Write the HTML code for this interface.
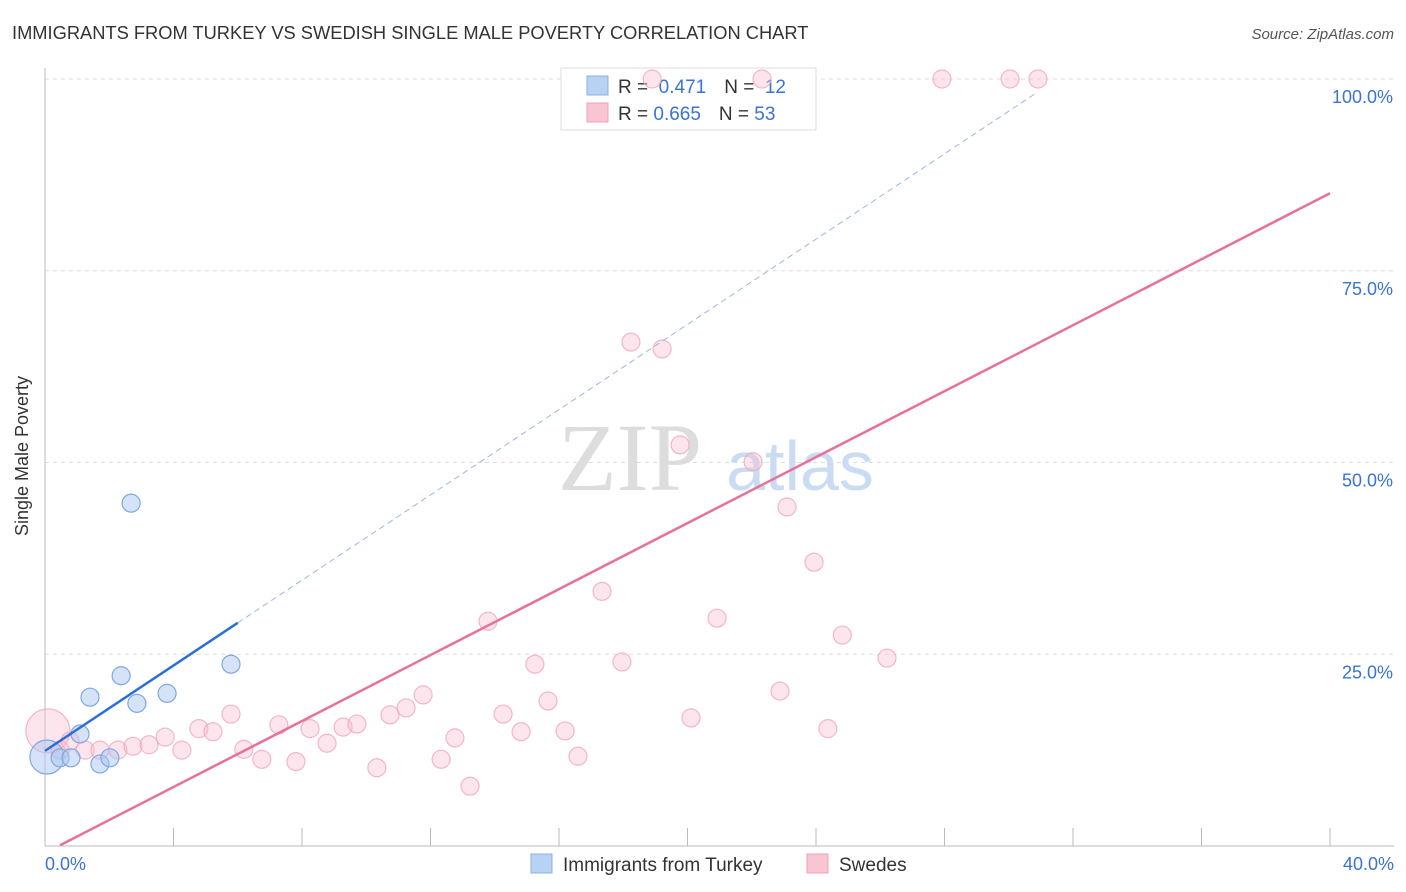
<!DOCTYPE html>
<html><head><meta charset="utf-8"><style>
body{margin:0;background:#fff;font-family:"Liberation Sans",sans-serif}
svg{display:block}
</style></head><body>
<svg id="chart" width="1406" height="892">
<text x="12" y="39" font-size="18.3" fill="#333">IMMIGRANTS FROM TURKEY VS SWEDISH SINGLE MALE POVERTY CORRELATION CHART</text>
<text x="1394" y="39" font-size="15" fill="#555" font-style="italic" text-anchor="end">Source: ZipAtlas.com</text>
<g id="grid"></g>
<text x="630" y="490" font-size="96" font-family="Liberation Serif" fill="#ddd" text-anchor="middle">ZIP</text>
<text x="800" y="490" font-size="70" fill="#c9dcf3" text-anchor="middle">atlas</text>
<g id="axes"></g>
<text x="28" y="456" font-size="18" fill="#333" text-anchor="middle" transform="rotate(-90 28 456)">Single Male Poverty</text>
<text x="45" y="870" font-size="18" fill="#3a74d0">0.0%</text>
<text x="1394" y="870" font-size="18" fill="#3a74d0" text-anchor="end">40.0%</text>
<g>
<rect x="561" y="68" width="255" height="62" fill="#fff" stroke="#ddd"/>
<rect x="587" y="76" width="21" height="19" fill="#b8d2f5" stroke="#8ab0e0"/>
<rect x="587" y="103" width="21" height="19" fill="#f9c5d3" stroke="#f0a0b8"/>
<text x="618" y="93" font-size="19" fill="#333">R = <tspan fill="#3a74d0">&#160;0.471</tspan><tspan dx="18">N = </tspan><tspan fill="#3a74d0">&#160;12</tspan></text>
<text x="618" y="120" font-size="19" fill="#333">R = <tspan fill="#3a74d0">0.665</tspan><tspan dx="18">N = </tspan><tspan fill="#3a74d0">53</tspan></text>
</g>
<g>
<rect x="531" y="854" width="21" height="19" fill="#b8d2f5" stroke="#8ab0e0"/>
<text x="563" y="871" font-size="19" fill="#333">Immigrants from Turkey</text>
<rect x="807" y="854" width="21" height="19" fill="#f9c5d3" stroke="#f0a0b8"/>
<text x="839" y="871" font-size="19" fill="#333">Swedes</text>
</g>
<g id="pts"></g>
<g id="lines"></g>
</svg>
<script>
const yTicks=[25,50,75,100];
const yTickLabels=["25.0%","50.0%","75.0%","100.0%"];
const xTicks=[0,4,8,12,16,20,24,28,32,36,40];
const blueX=[0.06,0.47,0.81,1.09,1.40,1.71,2.02,2.37,2.68,2.86,3.80,5.79];
const blueY=[11.6,11.5,11.5,14.6,19.4,10.7,11.5,22.2,44.7,18.6,19.9,23.7];
const pinkX=[0.09,0.47,0.78,1.25,1.71,2.27,2.74,3.24,3.74,4.26,4.79,5.23,5.79,6.19,6.75,7.28,7.81,8.25,8.78,9.28,9.71,10.33,10.74,11.24,11.77,12.33,12.76,13.23,13.79,14.26,14.82,15.25,15.66,16.19,16.59,17.34,17.96,18.24,18.90,19.21,19.77,20.11,20.92,22.04,22.32,22.88,23.10,23.94,24.37,24.82,26.21,27.92,30.04,30.91];
const pinkY=[15.0,12.5,13.7,12.5,12.5,12.5,13.0,13.2,14.2,12.5,15.3,14.9,17.2,12.6,11.3,15.8,11.0,15.3,13.4,15.5,15.9,10.2,17.1,18.0,19.7,11.3,14.1,7.8,29.3,17.2,14.9,23.7,18.9,15.0,11.7,33.2,24.0,65.7,100,64.8,52.3,16.7,29.7,50.1,100,20.2,44.2,37.0,15.3,27.5,24.5,100,100,100];
const blueTrend=[[0,12.4],[6.0,29.1],[30.9,98.3]];
const pinkTrend=[[0.47,0.1],[40,85.1]];
const X=v=>45+v/40*1285, Y=v=>846-v/100*767;
const NS="http://www.w3.org/2000/svg";
function mk(t,a,p){const e=document.createElementNS(NS,t);for(const k in a)e.setAttribute(k,a[k]);p.appendChild(e);return e;}
const grid=document.getElementById('grid'),axes=document.getElementById('axes'),pts=document.getElementById('pts'),lines=document.getElementById('lines');
yTicks.forEach((t,i)=>{
 const l=mk('line',{x1:45,x2:1394,y1:Y(t),y2:Y(t),stroke:'#ddd','stroke-dasharray':'4,4'},grid);
 
 
 const tx=mk('text',{x:1393,y:Y(t)+24,'font-size':18,fill:'#3a74d0','text-anchor':'end'},axes);
 tx.textContent=yTickLabels[i];
 
 
});
const ya=mk('line',{x1:45,x2:45,y1:68,y2:846,stroke:'#bbb'},axes);


const xa=mk('line',{x1:45,x2:1394,y1:846,y2:846,stroke:'#bbb'},axes);


xTicks.forEach(t=>{
 const l=mk('line',{x1:X(t),x2:X(t),y1:828,y2:846,stroke:'#bbb'},axes);
 
 
});
pinkX.forEach((v,i)=>{
 const c=mk('circle',{cx:X(v),cy:Y(pinkY[i]),r:i==0?22:9,fill:'rgba(248,190,208,0.4)',stroke:'#f0a6bc','stroke-width':1.2,'stroke-opacity':0.8},pts);
 
 
});
blueX.forEach((v,i)=>{
 const c=mk('circle',{cx:X(v),cy:Y(blueY[i]),r:i==0?17:9,fill:'rgba(170,200,240,0.5)',stroke:'#7fa8e0','stroke-width':1.2},pts);
 
 
});
const b1=mk('line',{x1:X(blueTrend[0][0]),y1:Y(blueTrend[0][1]),x2:X(blueTrend[1][0]),y2:Y(blueTrend[1][1]),stroke:'#2a6fd6','stroke-width':2.5},lines);


const b2=mk('line',{x1:X(blueTrend[1][0]),y1:Y(blueTrend[1][1]),x2:X(blueTrend[2][0]),y2:Y(blueTrend[2][1]),stroke:'#9bb8e0','stroke-width':1,'stroke-dasharray':'6,4'},lines);


const p1=mk('line',{x1:X(pinkTrend[0][0]),y1:Y(pinkTrend[0][1]),x2:X(pinkTrend[1][0]),y2:Y(pinkTrend[1][1]),stroke:'#e8719a','stroke-width':2.5},lines);


</script>
</body></html>
